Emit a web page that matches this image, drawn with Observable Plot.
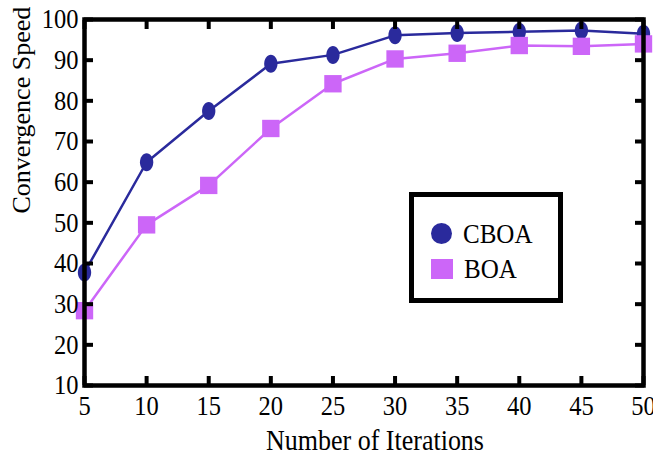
<!DOCTYPE html>
<html>
<head>
<meta charset="utf-8">
<script src="https://cdn.jsdelivr.net/npm/d3@7"></script>
<script src="https://cdn.jsdelivr.net/npm/@observablehq/plot@0.6"></script>
<style>
  body { margin: 0; background: #fff; }
  #wrap { position: relative; width: 653px; height: 455px; font-family: "Liberation Serif", "Times New Roman", serif; }
  #legend { position: absolute; left: 409px; top: 192px; width: 144px; height: 101px; border: 5px solid #000; background: #fff; }
  .item { position: absolute; left: 17px; font-size: 25px; line-height: 25px; color: #000; display: flex; align-items: center; }
  .item .lbl { display: inline-block; transform: scaleY(1.12); }
  .sw { display: inline-block; margin-right: 11px; }
</style>
</head>
<body>
<div id="wrap"></div>
<script>
const iterations = [5, 10, 15, 20, 25, 30, 35, 40, 45, 50];
const cboa = [37.8, 64.9, 77.5, 89.1, 91.3, 96.1, 96.7, 97.0, 97.3, 96.5];
const boa  = [28.4, 49.5, 59.2, 73.2, 84.2, 90.3, 91.7, 93.6, 93.4, 94.0];
const seriesNames = ["CBOA", "BOA"];
const seriesColors = ["#2a2a9c", "#cc66f8"];
const xTicks = [5, 10, 15, 20, 25, 30, 35, 40, 45, 50];
const yTicks = [10, 20, 30, 40, 50, 60, 70, 80, 90, 100];
const xLabel = "Number of Iterations";
const yLabel = "Convergence Speed";

const cboaData = iterations.map((x, i) => ({x, y: cboa[i]}));
const boaData = iterations.map((x, i) => ({x, y: boa[i]}));

// slightly tall elliptical marker, as in the reference
const ellipse = {
  draw(context, size) {
    const r = Math.sqrt(size / Math.PI);
    const rx = r * 0.74, ry = r, k = 0.5523;
    context.moveTo(rx, 0);
    context.bezierCurveTo(rx, ry * k, rx * k, ry, 0, ry);
    context.bezierCurveTo(-rx * k, ry, -rx, ry * k, -rx, 0);
    context.bezierCurveTo(-rx, -ry * k, -rx * k, -ry, 0, -ry);
    context.bezierCurveTo(rx * k, -ry, rx, -ry * k, rx, 0);
    context.closePath();
  }
};

const font = "Liberation Serif, Times New Roman, serif";
const tickMark = {tickSize: -9, strokeWidth: 4, tickFormat: () => "", label: null};

const chart = Plot.plot({
  width: 653,
  height: 455,
  marginLeft: 84,
  marginRight: 10,
  marginTop: 19,
  marginBottom: 70,
  style: {fontFamily: font, fontSize: "25px", color: "#000", background: "#fff"},
  x: {domain: [5, 50]},
  y: {domain: [10, 100]},
  marks: [
    Plot.line(cboaData, {x: "x", y: "y", stroke: seriesColors[0], strokeWidth: 2.5}),
    Plot.dot(cboaData, {x: "x", y: "y", r: 9, fill: seriesColors[0], symbol: ellipse}),
    Plot.line(boaData, {x: "x", y: "y", stroke: seriesColors[1], strokeWidth: 2.5}),
    Plot.dot(boaData, {x: "x", y: "y", r: 9.8, fill: seriesColors[1], symbol: "square"}),
    Plot.axisX(xTicks, {anchor: "bottom", ...tickMark}),
    Plot.axisX(xTicks, {anchor: "top", ...tickMark}),
    Plot.axisY(yTicks, {anchor: "left", ...tickMark}),
    Plot.axisY(yTicks, {anchor: "right", ...tickMark}),
    Plot.axisX(xTicks, {anchor: "bottom", tickSize: 0, tickPadding: 10, label: null, fontSize: 24.5, fill: "#000"}),
    Plot.axisY(yTicks, {anchor: "left", tickSize: 0, tickPadding: 6, label: null, fontSize: 24.5, fill: "#000"}),
    Plot.frame({strokeWidth: 4.5, stroke: "#000"}),
    Plot.text([xLabel], {frameAnchor: "bottom", lineAnchor: "top", dx: 11, dy: 44, fontSize: 26, fill: "#000"}),
    Plot.text([yLabel], {frameAnchor: "left", rotate: -90, lineAnchor: "middle", dx: -63, dy: 11, fontSize: 26, fill: "#000"})
  ]
});

// the reference's horizontal texts are slightly tall: stretch them vertically
d3.select(chart).selectAll("text").each(function () {
  const t = this.getAttribute("transform") || "";
  if (!t.includes("rotate")) this.setAttribute("transform", t + " scale(1,1.12)");
});

const wrap = document.getElementById("wrap");
wrap.appendChild(chart);

// Legend (overlay inside the plot area)
const legend = document.createElement("div");
legend.id = "legend";
const tops = [24, 59];
seriesNames.forEach((name, i) => {
  const item = document.createElement("div");
  item.className = "item";
  item.style.top = tops[i] + "px";
  const sw = document.createElement("span");
  sw.className = "sw";
  sw.style.width = (i === 0 ? 21 : 22) + "px";
  sw.style.height = (i === 0 ? 21 : 20) + "px";
  sw.style.background = seriesColors[i];
  if (i === 0) sw.style.borderRadius = "50%";
  const lbl = document.createElement("span");
  lbl.className = "lbl";
  lbl.textContent = name;
  item.appendChild(sw);
  item.appendChild(lbl);
  legend.appendChild(item);
});
wrap.appendChild(legend);
</script>
</body>
</html>
